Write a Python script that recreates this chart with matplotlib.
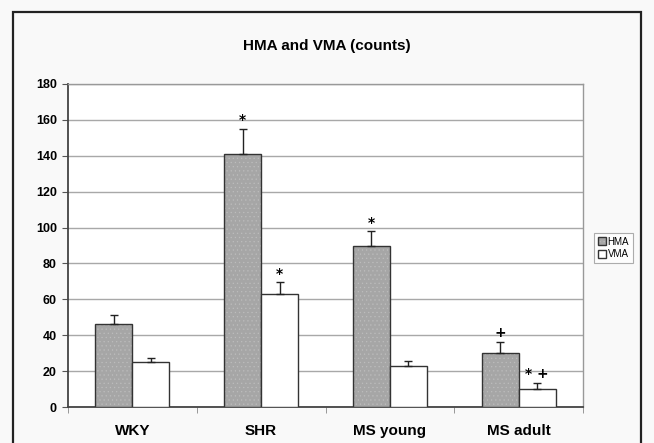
import numpy as np
import matplotlib.pyplot as plt
from matplotlib.patches import Rectangle

plt.rcParams["font.family"] = ["Liberation Sans", "DejaVu Sans"]
plt.rcParams["hatch.linewidth"] = 0.4

groups = ["WKY", "SHR", "MS young", "MS adult"]
hma = [46, 141, 90, 30]
hma_err = [5.5, 14, 8, 6.5]
vma = [25, 63, 23, 10]
vma_err = [2.5, 6.5, 2.5, 3.5]
hma_marks = ["", "*", "*", "+"]
vma_marks = ["", "*", "", "* +"]

fig = plt.figure(figsize=(6.54, 4.43), dpi=100)
fig.patch.set_facecolor("#f9f9f9")
# outer frame of the original figure (runs off the bottom)
fig.patches.append(Rectangle((13 / 654, -0.05), 628 / 654, 1.05 - 12 / 443,
                             transform=fig.transFigure, fill=False,
                             edgecolor="#222222", linewidth=1.6))

ax = fig.add_axes([68 / 654, 1 - 407 / 443, 515 / 654, 323 / 443])
ax.set_facecolor("white")

x = np.arange(len(groups))
w = 0.287
b1 = ax.bar(x - w / 2, hma, w, color="#a6a6a6", edgecolor="#333333",
            linewidth=1.0, hatch="....", label="HMA", zorder=3)
b2 = ax.bar(x + w / 2, vma, w, color="white", edgecolor="#333333",
            linewidth=1.0, label="VMA", zorder=3)
for b in b1:
    b._hatch_color = (0.74, 0.74, 0.74, 1)
ax.errorbar(x - w / 2, hma, yerr=[np.zeros(4), hma_err], fmt="none",
            ecolor="#222222", elinewidth=1.0, capsize=3, capthick=1.0, zorder=4)
ax.errorbar(x + w / 2, vma, yerr=[np.zeros(4), vma_err], fmt="none",
            ecolor="#222222", elinewidth=1.0, capsize=3, capthick=1.0, zorder=4)

# significance marks
for i in range(len(groups)):
    if hma_marks[i]:
        ax.text(x[i] - w / 2, hma[i] + hma_err[i] + 0.8, hma_marks[i],
                ha="center", va="bottom", fontsize=10, fontweight="bold",
                family="DejaVu Sans")
    if vma_marks[i]:
        ax.text(x[i] + w / 2, vma[i] + vma_err[i] + 0.8, vma_marks[i],
                ha="center", va="bottom", fontsize=10, fontweight="bold",
                family="DejaVu Sans")

ax.set_xlim(-0.5, 3.5)
ax.set_ylim(0, 180)
ax.set_yticks(range(0, 181, 20))
ax.yaxis.grid(True, color="#a8a8a8", linewidth=1.0, zorder=0)
ax.set_axisbelow(True)
ax.set_xticks(x)
ax.set_xticklabels(groups, fontsize=11, fontweight="bold")
ax.set_xticks(np.arange(-0.5, 4, 1), minor=True)
ax.tick_params(axis="x", which="major", length=0, pad=12)
ax.tick_params(axis="x", which="minor", length=4, color="#888888")
ax.tick_params(axis="y", length=4, color="#555555", labelsize=9, pad=4)
for lab in ax.get_yticklabels():
    lab.set_fontweight("bold")

for side in ["top", "right"]:
    ax.spines[side].set_color("#999999")
    ax.spines[side].set_linewidth(1.0)
ax.spines["left"].set_color("#444444")
ax.spines["left"].set_linewidth(1.3)
ax.spines["bottom"].set_color("#444444")
ax.spines["bottom"].set_linewidth(1.3)

fig.text(0.5, 1 - 46 / 443, "HMA and VMA (counts)", ha="center", va="center",
         fontsize=11, fontweight="bold")

leg = fig.legend(handles=[b1, b2], labels=["HMA", "VMA"],
                 loc="center left", bbox_to_anchor=(594 / 654, 1 - 248 / 443),
                 fontsize=7, frameon=True, fancybox=False, handlelength=0.8,
                 handleheight=0.8, handletextpad=0.2, borderpad=0.4,
                 labelspacing=0.3, borderaxespad=0)
leg.get_frame().set_edgecolor("#999999")
leg.get_frame().set_linewidth(0.8)

fig.savefig("out.png", dpi=100, facecolor=fig.get_facecolor())
